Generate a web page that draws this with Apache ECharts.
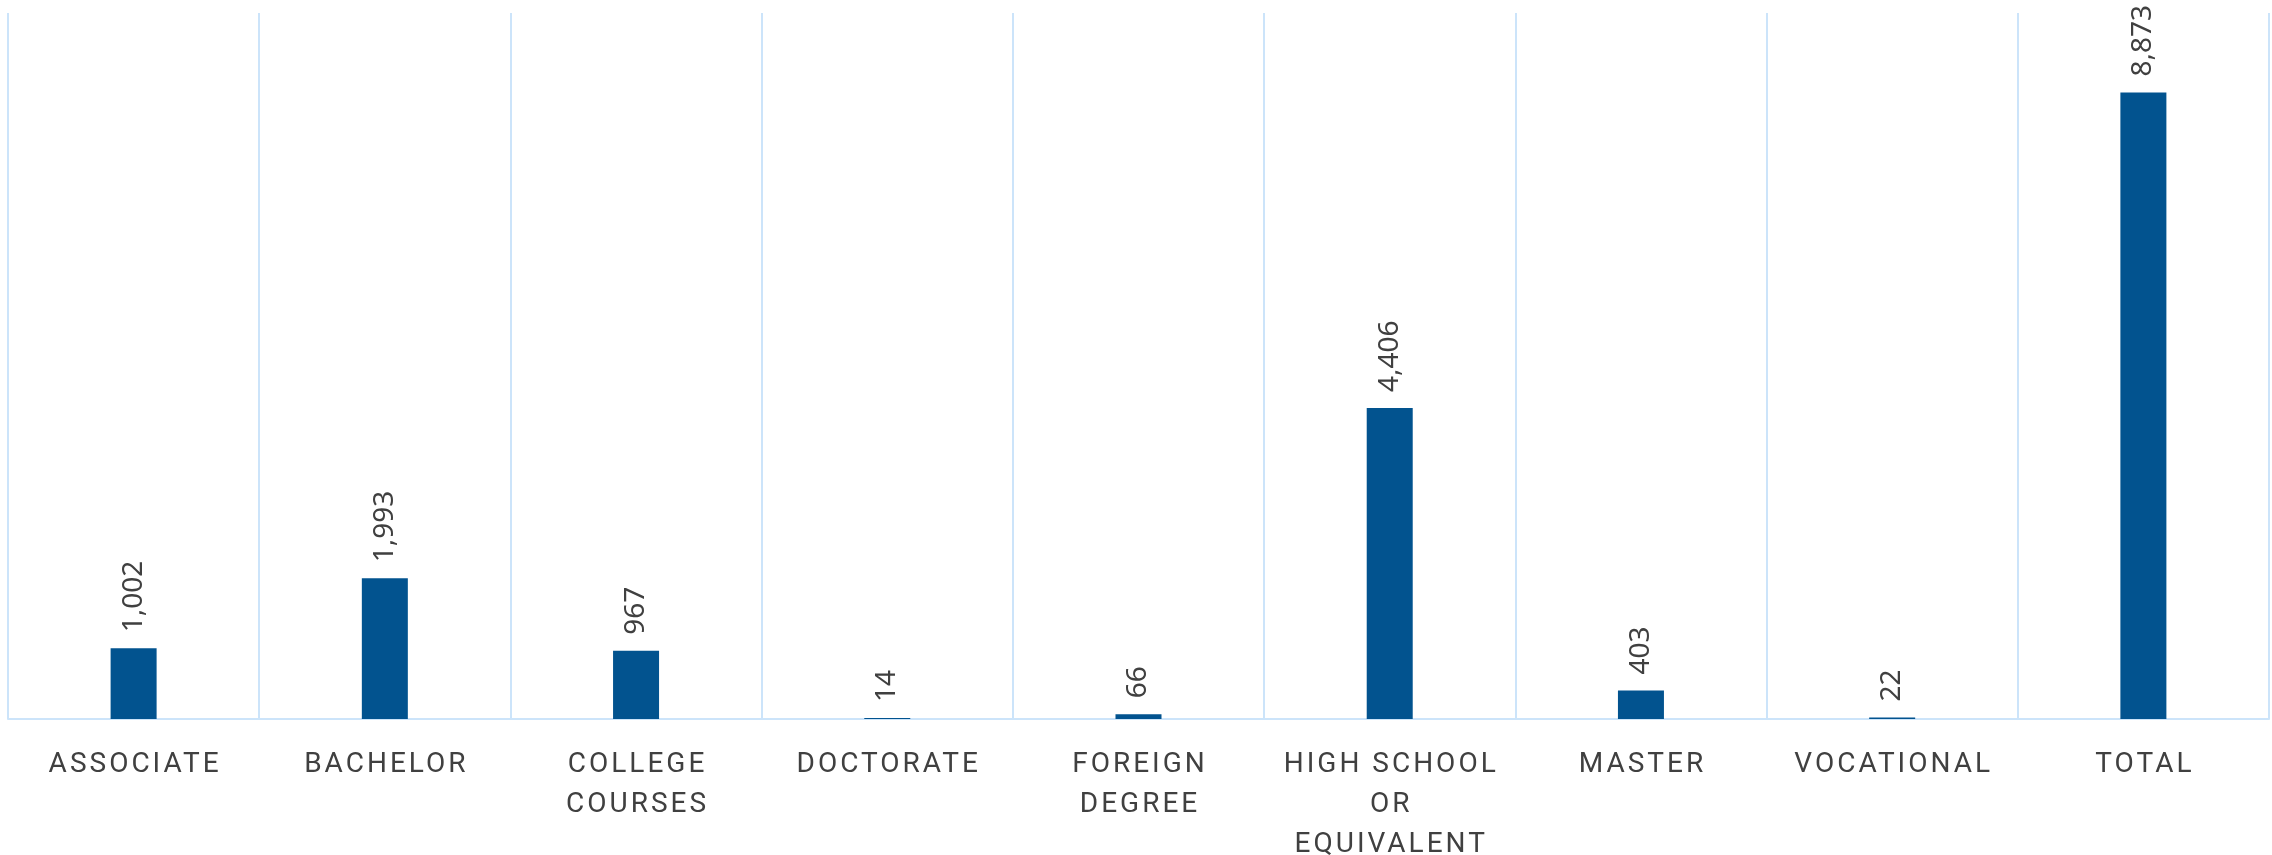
<!DOCTYPE html>
<html>
<head>
<meta charset="utf-8">
<script src="https://cdn.jsdelivr.net/npm/echarts@6/dist/echarts.min.js"></script>
<style>
html,body{margin:0;padding:0;background:#fff;}
#chart{width:2272px;height:855px;}
</style>
</head>
<body>
<div id="chart"></div>
<script>
const categories = ['ASSOCIATE', 'BACHELOR', 'COLLEGE\nCOURSES', 'DOCTORATE', 'FOREIGN\nDEGREE', 'HIGH SCHOOL\nOR\nEQUIVALENT', 'MASTER', 'VOCATIONAL', 'TOTAL'];
const values = [1002, 1993, 967, 14, 66, 4406, 403, 22, 8873];

// letter-spaced category labels (only text drawn in Roboto)
(function () {
  const proto = CanvasRenderingContext2D.prototype;
  const orig = proto.fillText;
  proto.fillText = function (t, x, y, w) {
    const spaced = /Roboto/.test(this.font);
    if ('letterSpacing' in this) this.letterSpacing = spaced ? '3px' : '0px';
    const dx = spaced ? 1.5 : 0;
    const r = w === undefined ? orig.call(this, t, x + dx, y) : orig.call(this, t, x + dx, y, w);
    if ('letterSpacing' in this) this.letterSpacing = '0px';
    return r;
  };
})();

const chart = echarts.init(document.getElementById('chart'));
chart.setOption({
  animation: false,
  grid: {left: 8, right: 3, top: 13, bottom: 136, containLabel: false, outerBoundsMode: 'none'},
  xAxis: {
    type: 'category',
    data: categories,
    axisLine: {show: true, lineStyle: {color: '#cce4fa', width: 2}},
    axisTick: {show: false},
    splitLine: {show: true, lineStyle: {color: '#cce4fa', width: 2}},
    axisLabel: {
      interval: 0,
      color: '#404040',
      fontFamily: 'Roboto',
      fontSize: 28,
      lineHeight: 40,
      margin: 26
    }
  },
  yAxis: {
    type: 'value',
    min: 0,
    max: 10000,
    show: false,
    splitLine: {show: false}
  },
  series: [{
    type: 'bar',
    data: values,
    barWidth: 46,
    itemStyle: {color: '#02538f'},
    label: {
      show: true,
      position: 'top',
      rotate: 90,
      align: 'left',
      verticalAlign: 'middle',
      distance: 16,
      color: '#404040',
      fontFamily: 'Noto Sans',
      fontSize: 28,
      formatter: p => p.value.toLocaleString('en-US')
    }
  }]
});
</script>
</body>
</html>
